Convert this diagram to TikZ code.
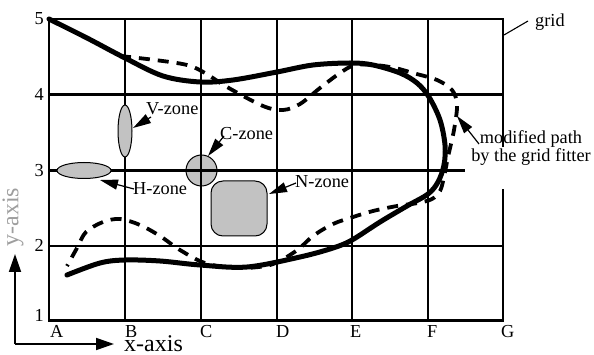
\documentclass[tikz,border=0pt]{standalone}
\usepackage{fontspec}
\setmainfont{Liberation Serif}
\usetikzlibrary{arrows.meta,shapes.geometric}
\definecolor{zonegray}{gray}{0.76}
\definecolor{axisgray}{gray}{0.62}
\begin{document}
\begin{tikzpicture}[x=1pt,y=-1pt,
  gridline/.style={line width=2.7pt, line cap=rect},
  zone/.style={draw=black, line width=1pt, fill=zonegray, inner sep=0pt},
  lbl/.style={inner sep=0pt, font=\fontsize{18.3}{18.5}\selectfont},
  biglbl/.style={inner sep=0pt, font=\fontsize{24}{24}\selectfont},
  ptr/.style={line width=1.2pt, -{Triangle[length=18pt,width=10pt]}},
  axisarrow/.style={line width=1.8pt, -{Triangle[length=18pt,width=12pt]}},
  solidpath/.style={line width=5pt, line join=round, line cap=round},
  dashpath/.style={line width=3.8pt, dash pattern=on 11pt off 8pt},
]
\useasboundingbox (0,0) rectangle (594,355);

% C-zone behind the grid
\node[zone, circle, minimum size=31pt] (cz) at (201.5,170.5) {};

% grid
\foreach \x in {49,125,201,277,352,428}
  \draw[gridline] (\x,19) -- (\x,320.5);
\draw[gridline] (503,19) -- (503,146);
\draw[gridline] (503,190) -- (503,320.5);
\foreach \y in {19,94.5,246,320.5}
  \draw[gridline] (49,\y) -- (503,\y);
\draw[gridline] (49,170.5) -- (464,170.5);

% zones over the grid
\node[zone, ellipse, minimum width=14pt, minimum height=52pt] (vz) at (125,131) {};
\node[zone, ellipse, minimum width=54pt, minimum height=16pt] (hz) at (84,170.5) {};
\node[zone, rectangle, rounded corners=12pt, minimum width=56pt, minimum height=55pt] (nz) at (239,208.5) {};

% modified (dashed) path
\draw[dashpath] plot[smooth, tension=0.55] coordinates {
 (120,56) (155,60) (187,65) (205,73) (227,87) (263,106) (283,110) (300,104)
 (320,88) (340,73) (355,65) (375,65) (395,68) (413,73) (437,80) (452,90)
 (457,105) (454,130) (448,157) (444,177) (440,191) (432,199) (418,203)
 (397,206) (373,211) (353,217) (333,224) (313,236) (296,251) (270,265)
 (235,268) (205,263) (180,250) (160,236) (140,225) (120,219) (103,222)
 (86,232) (77,248) (67,266)};

% original (solid) path
\draw[solidpath] plot[smooth, tension=0.55] coordinates {
 (49,19) (87,38) (125,58) (163,76) (200,82) (233,80) (277,72) (313,65)
 (350,63) (373,65) (400,73) (417,83) (429,97) (440,120) (445,145) (444,165)
 (438,182) (428,194) (407,206) (380,222) (352,240) (333,248) (300,257)
 (247,267) (200,265) (160,261) (125,260) (100,263) (67,275)};

% row labels
\node[lbl, anchor=base east] (r5) at (44,25) {5};
\node[lbl, anchor=base east] (r4) at (44,100.5) {4};
\node[lbl, anchor=base east] (r3) at (44,176.5) {3};
\node[lbl, anchor=base east] (r2) at (44,252) {2};
\node[lbl, anchor=base east] (r1) at (44,321) {1};

% column labels
\node[lbl, anchor=base west] (cA) at (50,337) {A};
\node[lbl, anchor=base west] (cB) at (125,337) {B};
\node[lbl, anchor=base west] (cC) at (200,337) {C};
\node[lbl, anchor=base west] (cD) at (276,337) {D};
\node[lbl, anchor=base west] (cE) at (350,337) {E};
\node[lbl, anchor=base west] (cF) at (427,337) {F};
\node[lbl, anchor=base west] (cG) at (501,337) {G};

% zone labels
\node[lbl, anchor=base west] (vlab) at (146,115) {V-zone};
\node[lbl, anchor=base west] (clab) at (220,140) {C-zone};
\node[lbl, anchor=base west] (hlab) at (133,195) {H-zone};
\node[lbl, anchor=base west] (nlab) at (295,188) {N-zone};
\node[lbl, anchor=base west] (glab) at (535,27) {grid};
\node[lbl, align=center, anchor=base] (mlab) at (531,162) {modified path\\by the grid fitter};

% pointers
\coordinate (vt) at (151,117);  \coordinate (vh) at (133,128);
\coordinate (ct) at (224,136);  \coordinate (ch) at (208,156);
\coordinate (ht) at (134,189);  \coordinate (hh) at (100,180);
\coordinate (nt) at (296,183);  \coordinate (nh) at (269,194);
\coordinate (mt) at (479,144);  \coordinate (mh) at (457,116);
\draw[ptr] (vt) -- (vh);
\draw[ptr] (ct) -- (ch);
\draw[ptr] (ht) -- (hh);
\draw[ptr] (nt) -- (nh);
\draw[ptr] (mt) -- (mh);
\coordinate (gl1) at (504,35);  \coordinate (gl2) at (528,21);
\draw[line width=1.1pt] (gl1) -- (gl2);

% axes
\coordinate (org) at (15,344);
\coordinate (yend) at (15,254);
\coordinate (xend) at (114,344);
\draw[axisarrow] (org) -- (yend);
\draw[axisarrow] (org) -- (xend);
\node[biglbl, anchor=base west] (xlab) at (124,351) {x-axis};
\node[biglbl, rotate=90, text=axisgray] (ylab) at (13,217) {y-axis};
\end{tikzpicture}
\end{document}
